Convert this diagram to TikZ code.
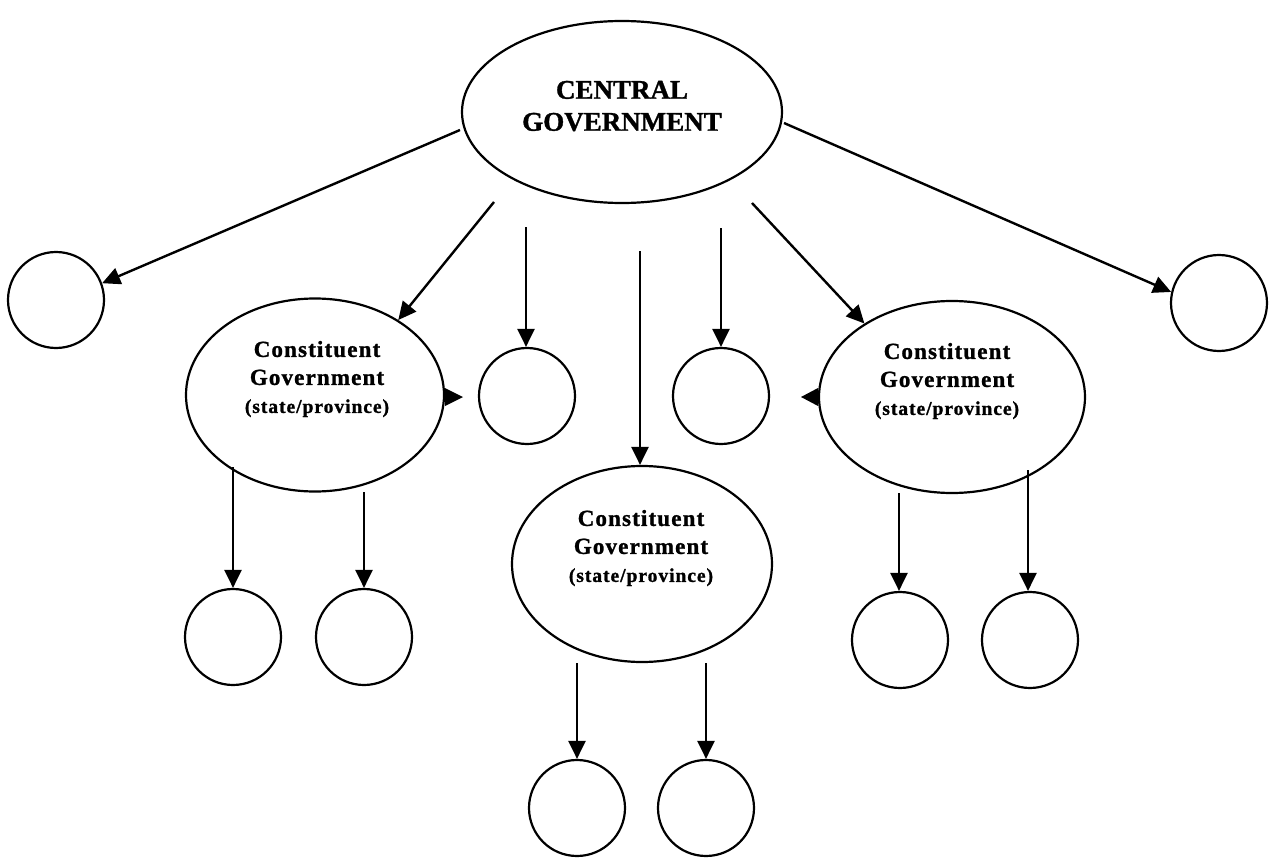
\documentclass[tikz,border=0pt]{standalone}
\usepackage{fontspec}
\setmainfont{Liberation Serif}
\newfontfamily\headfont[FakeBold=1.2]{Liberation Serif}
\newfontfamily\labelfont[LetterSpace=5,FakeBold=1.2]{Liberation Serif}
\usetikzlibrary{shapes.geometric,arrows.meta}

\begin{document}
\begin{tikzpicture}[x=1pt,y=-1pt,
  oval/.style={draw,ellipse,line width=2.2pt,inner sep=0pt},
  unit/.style={draw,circle,line width=2.2pt,inner sep=0pt,minimum size=96pt},
  link/.style={line width=2.4pt,-{Triangle[length=18pt,width=17pt]}},
  headtext/.style={align=center,font=\headfont\bfseries\fontsize{27}{32}\selectfont},
  govtext/.style={align=center,font=\labelfont\bfseries\fontsize{23}{28}\selectfont}
]
\useasboundingbox (0,0) rectangle (1270,859);

% central government
\node[oval,minimum width=320pt,minimum height=182pt] (cg) at (622,112) {};
\node[headtext] (cgt) at (622,106) {CENTRAL\\GOVERNMENT};

% constituent governments
\node[oval,minimum width=258pt,minimum height=193pt] (sl) at (315,395) {};
\node[oval,minimum width=266pt,minimum height=192pt] (sr) at (952,397) {};
\node[oval,minimum width=260pt,minimum height=196pt] (sm) at (642,564) {};
\node[govtext] (slt) at (317,379) {Constituent\\Government\\{\fontsize{19.5}{27}\selectfont (state/province)}};
\node[govtext] (srt) at (947,381) {Constituent\\Government\\{\fontsize{19.5}{27}\selectfont (state/province)}};
\node[govtext] (smt) at (641,548) {Constituent\\Government\\{\fontsize{19.5}{27}\selectfont (state/province)}};

% local units
\node[unit] (u1) at (56,300) {};
\node[unit] (u2) at (1219,303) {};
\node[unit] (u3) at (527,396) {};
\node[unit] (u4) at (721,396) {};
\node[unit] (l1) at (233,637) {};
\node[unit] (l2) at (364,637) {};
\node[unit] (r1) at (900,640) {};
\node[unit] (r2) at (1030,640) {};
\node[unit] (m1) at (577,808) {};
\node[unit] (m2) at (706,808) {};

% starting points of the arrows
\coordinate (a1) at (460,130);
\coordinate (a2) at (494,202);
\coordinate (a3) at (526,227);
\coordinate (a4) at (640,251);
\coordinate (a5) at (721,228);
\coordinate (a6) at (752,203);
\coordinate (a7) at (784,123);
\coordinate (b1) at (233,467);
\coordinate (b2) at (364,492);
\coordinate (c1) at (899,493);
\coordinate (c2) at (1028,470);
\coordinate (d1) at (577,663);
\coordinate (d2) at (706,663);

% arrows from the centre
\draw[link] (a1) -- (u1.20);
\draw[link] (a2) -- (sl.42);
\draw[link] (a3) -- (a3 |- u3.north);
\draw[link] (a4) -- (a4 |- sm.north);
\draw[link] (a5) -- (a5 |- u4.north);
\draw[link] (a6) -- (sr.140);
\draw[link] (a7) -- (u2.167);

% arrows from the constituent governments
\draw[link] (b1) -- (b1 |- l1.north);
\draw[link] (b2) -- (b2 |- l2.north);
\draw[link] (c1) -- (c1 |- r1.north);
\draw[link] (c2) -- (c2 |- r2.north);
\draw[link] (d1) -- (d1 |- m1.north);
\draw[link] (d2) -- (d2 |- m2.north);

% lone arrowheads beside the constituent governments
\fill (445,388) -- (463,397) -- (445,406) -- cycle;
\fill (818,388) -- (801,397) -- (818,406) -- cycle;
\end{tikzpicture}
\end{document}
